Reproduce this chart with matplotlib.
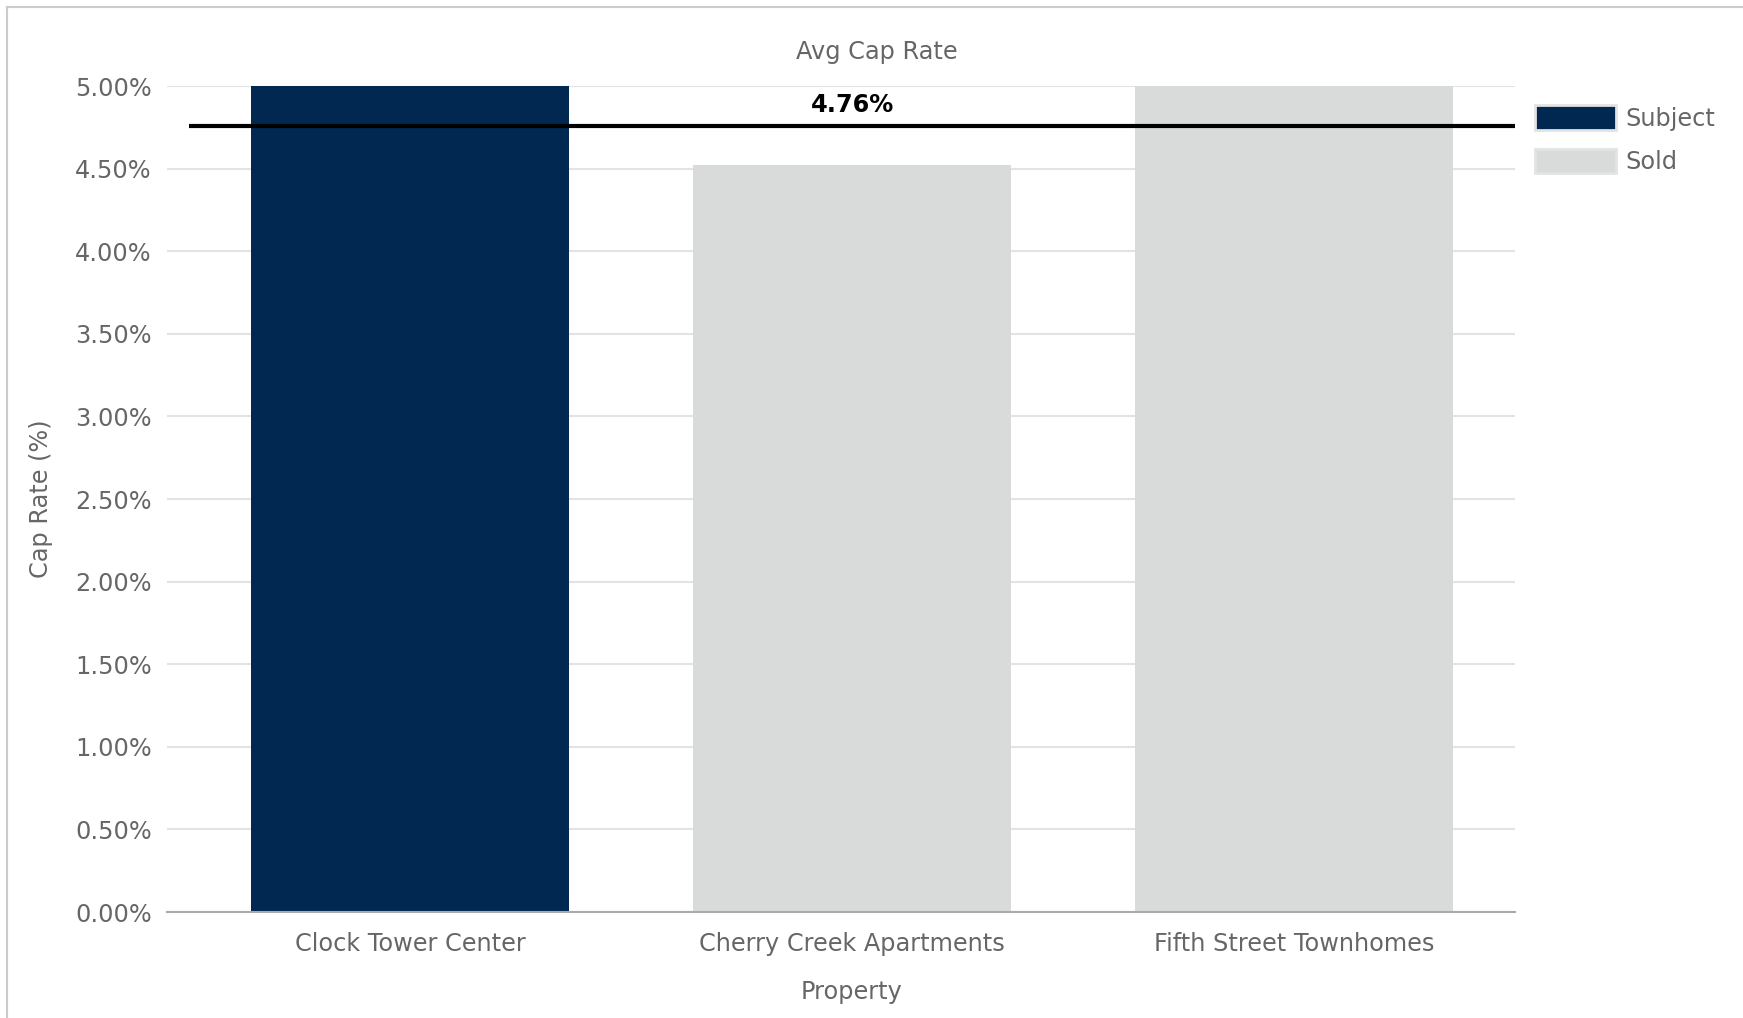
import matplotlib

matplotlib.use('Agg')
import matplotlib.pyplot as plt
from matplotlib.lines import Line2D
from matplotlib.patches import Patch
from matplotlib.ticker import FuncFormatter

# data
properties = ['Clock Tower Center', 'Cherry Creek Apartments', 'Fifth Street Townhomes']
cap_rates = [5.00, 4.52, 5.00]
groups = ['Subject', 'Sold', 'Sold']
avg_cap_rate = 4.76
y_ticks = [0.0, 0.5, 1.0, 1.5, 2.0, 2.5, 3.0, 3.5, 4.0, 4.5, 5.0]

colours = {'Subject': '#002850', 'Sold': '#D9DBDA'}
text_grey = '#666666'
fs = 17.3

fig = plt.figure(figsize=(17.43, 10.18), dpi=100)
ax = fig.add_axes([0.0958, 0.1041, 0.7734, 0.8114])

x = list(range(len(properties)))
ax.bar(x, cap_rates, width=0.72, color=[colours[g] for g in groups], zorder=2)
ax.plot([-0.5, len(properties) - 0.5], [avg_cap_rate, avg_cap_rate],
        color='black', linewidth=3, zorder=3, solid_capstyle='butt')
ax.text(1, avg_cap_rate + 0.05, '%.2f%%' % avg_cap_rate, ha='center', va='bottom',
        fontsize=fs, fontweight='bold', color='black', zorder=4)

ax.set_xlim(-0.55, 2.5)
ax.set_ylim(0, 5.0)
ax.set_yticks(y_ticks)
ax.yaxis.set_major_formatter(FuncFormatter(lambda v, p: '%.2f%%' % v))
ax.set_xticks(x)
ax.set_xticklabels(properties)
ax.tick_params(axis='both', length=0, labelsize=fs, labelcolor=text_grey)
ax.tick_params(axis='y', pad=11)
ax.tick_params(axis='x', pad=14.5)
ax.grid(axis='y', color='#E3E3E3', linewidth=1.5, zorder=0)
ax.set_axisbelow(True)
for side in ['top', 'right', 'left']:
    ax.spines[side].set_visible(False)
ax.spines['bottom'].set_color('#AAAAAA')
ax.spines['bottom'].set_linewidth(1.5)

ax.set_ylabel('Cap Rate (%)', fontsize=fs, color=text_grey, labelpad=15.5)
ax.text(1, -0.097, 'Property', transform=ax.get_xaxis_transform(), ha='center', va='center',
        fontsize=fs, color=text_grey)
fig.text(0.503, 0.949, 'Avg Cap Rate', ha='center', va='center', fontsize=fs, color=text_grey)

handles = [Patch(facecolor=colours['Subject'], edgecolor='#E3E3E3', linewidth=2, label='Subject'),
           Patch(facecolor=colours['Sold'], edgecolor='#E3E3E3', linewidth=2, label='Sold')]
fig.legend(handles=handles, loc='upper left', bbox_to_anchor=(0.868, 0.918), frameon=False,
           fontsize=fs, labelcolor=text_grey, handlelength=3.4, handleheight=1.2,
           handletextpad=0.4, labelspacing=0.75)

# outer frame (left and top only visible)
fig.add_artist(Line2D([0.0042, 0.0042], [0, 0.9935], color='#CCCCCC', linewidth=1.5))
fig.add_artist(Line2D([0.0042, 1], [0.9935, 0.9935], color='#CCCCCC', linewidth=1.5))

fig.savefig('out.png', dpi=100)
